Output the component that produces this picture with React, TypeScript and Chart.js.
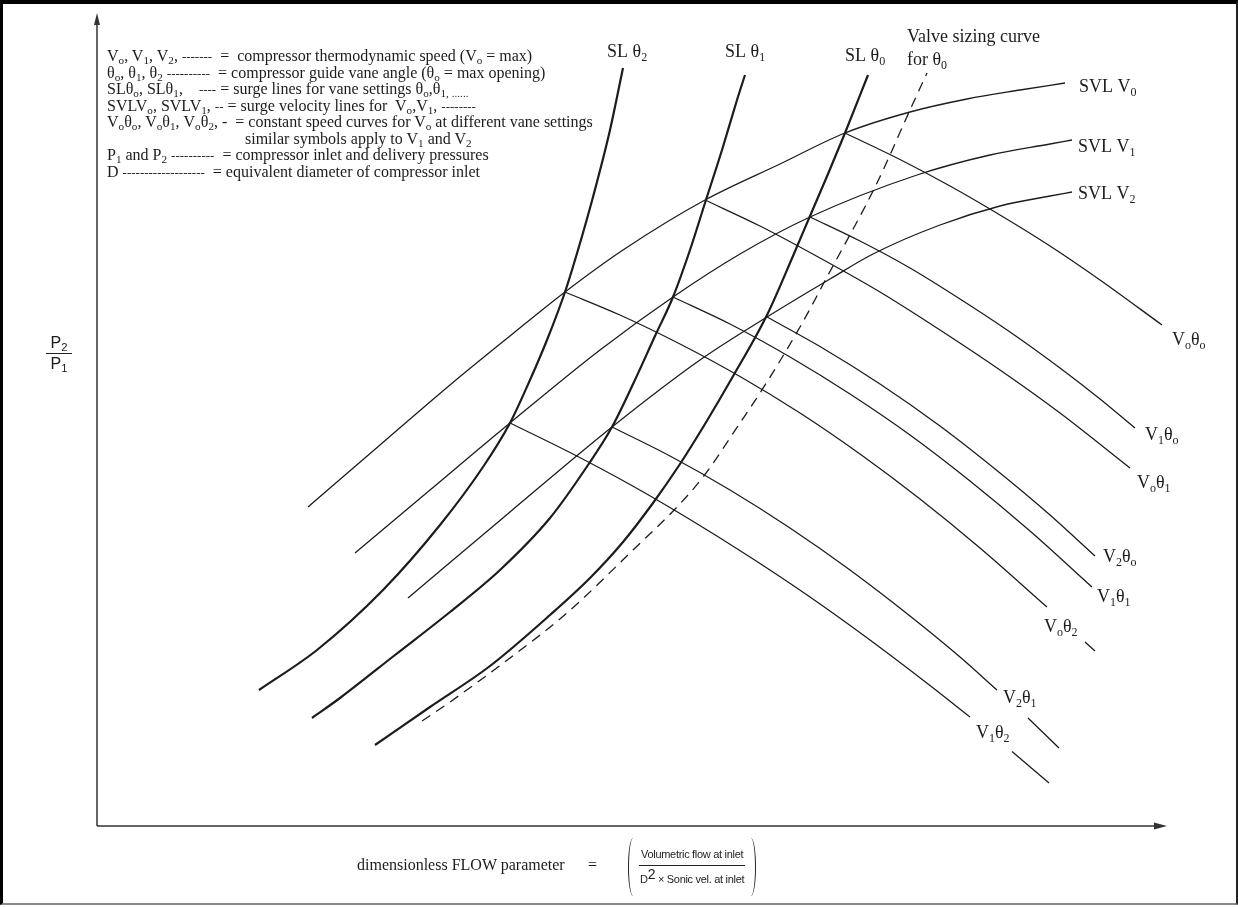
import React, { useEffect, useRef } from "react";
import { Chart, registerables } from "chart.js";

Chart.register(...registerables);

// Axis extents (dimensionless flow parameter, pressure ratio) in arbitrary drawing units
const X_MAX = 106.8;
const Y_MAX = 81.1;

// Surge lines (thick) for vane settings
const slTheta2 = [[16.2,13.6],[22.0,17.6],[28.6,23.6],[34.3,30.1],[38.6,35.9],[41.3,40.3],[43.3,44.6],[45.0,48.6],[46.8,53.4],[48.1,57.6],[49.6,62.9],[51.3,69.6],[52.6,75.8]];
const slTheta1 = [[21.5,10.8],[24.3,12.8],[29.8,17.1],[35.3,21.4],[40.3,25.6],[45.3,30.8],[49.1,36.1],[51.5,39.9],[53.7,44.4],[55.8,49.0],[57.6,52.9],[59.3,57.6],[60.8,62.3],[62.5,67.6],[64.0,72.6],[64.8,75.1]];
const slTheta0 = [[27.8,8.1],[33.3,11.9],[39.3,16.0],[45.3,21.1],[49.3,24.8],[52.6,28.4],[55.6,32.3],[58.3,36.2],[60.8,40.2],[63.5,44.8],[67.0,51.1],[69.6,57.0],[71.3,61.0],[73.1,65.2],[74.8,69.3],[77.1,75.1]];

// Valve sizing curve for theta0 (dashed)
const valveCurve = [[32.5,10.5],[35.3,12.4],[41.3,16.8],[47.0,21.3],[53.6,27.6],[58.0,31.9],[60.6,34.9],[64.3,40.3],[66.3,43.3],[70.3,49.9],[73.0,54.9],[78.0,64.3],[81.3,71.6],[83.0,75.3]];

// Surge velocity lines
const svlV0 = [[21.1,31.9],[28.3,38.1],[35.3,44.1],[41.3,49.0],[46.8,53.4],[52.6,57.6],[60.8,62.6],[68.3,66.2],[74.8,69.3],[81.3,71.4],[87.0,72.7],[92.3,73.6],[96.8,74.3]];
const svlV1 = [[25.8,27.3],[33.3,33.6],[41.3,40.3],[50.3,47.6],[57.6,52.9],[64.3,57.2],[71.3,60.9],[82.0,65.1],[89.3,67.1],[95.3,68.2],[97.5,68.6]];
const svlV2 = [[31.1,22.8],[41.3,31.4],[51.5,39.9],[60.3,46.6],[67.0,50.9],[73.3,54.7],[77.6,57.2],[84.3,60.1],[90.3,62.0],[95.3,63.0],[97.5,63.4]];

// Constant speed curves (speed V, vane setting theta)
const v0t0 = [[74.8,69.3],[80.3,66.65],[85.3,64.0],[90.3,61.1],[95.3,58.0],[100.3,54.6],[106.5,50.1]];
const v1t0 = [[71.3,60.9],[76.3,58.5],[81.3,55.8],[86.3,52.7],[91.3,49.4],[96.3,45.8],[100.3,42.7],[103.8,39.8]];
const v0t1 = [[60.8,62.6],[66.3,60.0],[72.3,56.8],[78.3,53.4],[84.3,49.6],[90.3,45.6],[96.3,41.3],[103.3,35.8]];
const v2t0 = [[67.0,50.9],[72.3,47.95],[78.3,44.2],[84.3,40.0],[90.3,35.3],[95.3,31.1],[99.8,27.0]];
const v1t1 = [[57.6,52.9],[63.3,50.2],[69.3,46.9],[75.3,43.2],[81.3,39.1],[87.3,34.5],[93.3,29.5],[99.5,23.9]];
const v0t2 = [[46.8,53.4],[52.3,51.1],[58.3,48.2],[64.3,44.95],[70.3,41.3],[76.3,37.2],[82.3,32.7],[88.3,27.8],[95.0,21.9]];
const v0t2Tail = [[98.8,18.4],[99.8,17.5]];
const v2t1 = [[51.5,39.9],[57.3,37.0],[63.3,33.6],[69.3,29.8],[75.3,25.6],[81.3,21.0],[86.3,16.9],[90.0,13.6]];
const v2t1Tail = [[93.1,10.8],[96.2,7.8]];
const v1t2 = [[41.3,40.3],[47.3,37.35],[53.3,34.15],[59.3,30.65],[65.3,26.9],[71.3,22.9],[77.3,18.6],[83.3,14.05],[87.3,10.9]];
const v1t2Tail = [[91.5,7.45],[95.2,4.3]];

// Curve labels ("_x" = subscript)
const labelTexts = ["SL θ_2","SL θ_1","SL θ_0","Valve sizing curve","for θ_0","SVL V_0","SVL V_1","SVL V_2","V_oθ_o","V_1θ_o","V_oθ_1","V_2θ_o","V_1θ_1","V_oθ_2","V_2θ_1","V_1θ_2"];
const labelX = [51.0,62.8,74.8,81.0,81.0,98.2,98.1,98.1,107.5,104.8,104.0,100.6,100.0,94.7,90.6,87.9];
const labelY = [77.4,77.4,77.0,78.9,76.6,73.9,67.9,63.2,48.6,39.1,34.3,26.9,22.9,19.9,12.8,9.3];

const INK = "#1c1c1c";

function drawRich(ctx: CanvasRenderingContext2D, text: string, x: number, y: number, size: number) {
  const parts = text.split(/(_\{[^}]*\}|_.)/).filter(Boolean);
  let cx = x;
  for (const p of parts) {
    if (p.startsWith("_")) {
      const t = p[1] === "{" ? p.slice(2, -1) : p.slice(1);
      ctx.font = `${Math.round(size * 0.66)}px "Liberation Serif", "Times New Roman", serif`;
      ctx.fillText(t, cx, y + size * 0.3);
      cx += ctx.measureText(t).width;
    } else {
      ctx.font = `${size}px "Liberation Serif", "Times New Roman", serif`;
      ctx.fillText(p, cx, y);
      cx += ctx.measureText(p).width;
    }
  }
}

const decorPlugin = {
  id: "decor",
  afterDatasetsDraw(chart: any) {
    const { ctx, chartArea: a, scales } = chart;
    ctx.save();
    ctx.strokeStyle = "#333";
    ctx.fillStyle = "#333";
    ctx.lineWidth = 1.5;
    ctx.beginPath();
    ctx.moveTo(a.left, a.bottom);
    ctx.lineTo(a.left, a.top + 4);
    ctx.moveTo(a.left, a.bottom);
    ctx.lineTo(a.right - 4, a.bottom);
    ctx.stroke();
    ctx.beginPath();
    ctx.moveTo(a.left, a.top - 2);
    ctx.lineTo(a.left - 3, a.top + 10);
    ctx.lineTo(a.left + 3, a.top + 10);
    ctx.closePath();
    ctx.fill();
    ctx.beginPath();
    ctx.moveTo(a.right + 2, a.bottom);
    ctx.lineTo(a.right - 11, a.bottom - 3.5);
    ctx.lineTo(a.right - 11, a.bottom + 3.5);
    ctx.closePath();
    ctx.fill();

    ctx.fillStyle = INK;
    ctx.textBaseline = "middle";
    ctx.textAlign = "left";
    labelTexts.forEach((t, i) => {
      const px = scales.x.getPixelForValue(labelX[i]);
      const py = scales.y.getPixelForValue(labelY[i]);
      drawRich(ctx, t, px, py, 18);
    });
    ctx.restore();
  },
};

function mk(points: number[][], width: number, dash?: number[]) {
  return {
    data: points.map(([x, y]) => ({ x, y })),
    showLine: true,
    borderColor: INK,
    borderWidth: width,
    borderDash: dash || [],
    cubicInterpolationMode: "monotone",
    pointRadius: 0,
    pointHoverRadius: 0,
    fill: false,
    clip: false as any,
  };
}

const S = ({ children }: { children: React.ReactNode }) => (
  <sub style={{ fontSize: "0.7em", lineHeight: 0, verticalAlign: "-0.25em" }}>{children}</sub>
);
const D = ({ children }: { children: React.ReactNode }) => (
  <span style={{ fontSize: 13 }}>{children}</span>
);

export default function App() {
  const ref = useRef<HTMLCanvasElement | null>(null);

  useEffect(() => {
    if (!ref.current) return;
    const chart = new Chart(ref.current, {
      type: "scatter",
      data: {
        datasets: [
          mk(slTheta2, 2.2),
          mk(slTheta1, 2.2),
          mk(slTheta0, 2.2),
          mk(valveCurve, 1.3, [10, 7]),
          mk(svlV0, 1.3),
          mk(svlV1, 1.3),
          mk(svlV2, 1.3),
          mk(v0t0, 1.3),
          mk(v1t0, 1.3),
          mk(v0t1, 1.3),
          mk(v2t0, 1.3),
          mk(v1t1, 1.3),
          mk(v0t2, 1.3),
          mk(v0t2Tail, 1.3),
          mk(v2t1, 1.3),
          mk(v2t1Tail, 1.3),
          mk(v1t2, 1.3),
          mk(v1t2Tail, 1.3),
        ] as any,
      },
      options: {
        animation: false,
        responsive: false,
        maintainAspectRatio: false,
        layout: { padding: { left: 97, top: 15, right: 73, bottom: 81 } },
        scales: {
          x: { type: "linear", min: 0, max: X_MAX, display: false },
          y: { type: "linear", min: 0, max: Y_MAX, display: false },
        },
        plugins: { legend: { display: false }, tooltip: { enabled: false } },
        events: [],
      },
      plugins: [decorPlugin],
    });
    return () => chart.destroy();
  }, []);

  const serif = '"Liberation Serif", "Times New Roman", serif';
  const sans = '"Liberation Sans", Arial, sans-serif';
  const legendLines: React.ReactNode[] = [
    <>V<S>o</S>, V<S>1</S>, V<S>2</S>, <D>-------</D>  =  compressor thermodynamic speed (V<S>o</S> = max)</>,
    <>θ<S>o</S>, θ<S>1</S>, θ<S>2</S> <D>----------</D>  = compressor guide vane angle (θ<S>o</S> = max opening)</>,
    <>SLθ<S>o</S>, SLθ<S>1</S>,    <D>----</D> = surge lines for vane settings θ<S>o</S>,θ<S>1, ......</S></>,
    <>SVLV<S>o</S>, SVLV<S>1</S>, <D>--</D> = surge velocity lines for  V<S>o</S>,V<S>1</S>, <D>--------</D></>,
    <>V<S>o</S>θ<S>o</S>, V<S>o</S>θ<S>1</S>, V<S>o</S>θ<S>2</S>, -  = constant speed curves for V<S>o</S> at different vane settings</>,
    <><span style={{ display: "inline-block", width: 138 }} />similar symbols apply to V<S>1</S> and V<S>2</S></>,
    <>P<S>1</S> and P<S>2</S> <D>----------</D>  = compressor inlet and delivery pressures</>,
    <>D <D>-------------------</D>  = equivalent diameter of compressor inlet</>,
  ];

  return (
    <div style={{ position: "relative", width: 1238, height: 907, background: "#fff", overflow: "hidden" }}>
      <style>{`body{margin:0;background:#fff}`}</style>
      <canvas ref={ref} width={1238} height={907} style={{ position: "absolute", left: 0, top: 0 }} />
      <div
        style={{
          position: "absolute", left: 0, top: 0, width: 1238, height: 905, boxSizing: "border-box",
          borderTop: "4px solid #000", borderLeft: "3px solid #000", borderRight: "2px solid #222",
          borderBottom: "2px solid #888", pointerEvents: "none",
        }}
      />
      <div style={{ position: "absolute", left: 107, top: 48, fontFamily: serif, fontSize: 16, lineHeight: "16.5px", color: INK, whiteSpace: "pre" }}>
        {legendLines.map((l, i) => (
          <div key={i} style={{ height: 16.5, overflow: "visible" }}>{l}</div>
        ))}
      </div>
      <div style={{ position: "absolute", left: 44, top: 334, width: 30, fontFamily: sans, fontSize: 16, color: INK, textAlign: "center", lineHeight: "18px" }}>
        <div>P<S>2</S></div>
        <div style={{ borderTop: "1.5px solid #222", margin: "1px 2px" }} />
        <div>P<S>1</S></div>
      </div>
      <div style={{ position: "absolute", left: 357, top: 856, fontFamily: serif, fontSize: 16, color: INK, whiteSpace: "pre" }}>
        dimensionless FLOW parameter
      </div>
      <div style={{ position: "absolute", left: 588, top: 856, fontFamily: serif, fontSize: 16, color: INK }}>=</div>
      <div style={{ position: "absolute", left: 628, top: 837, height: 60, display: "flex", alignItems: "center", color: INK }}>
        <div style={{ width: 9, height: 58, borderLeft: "1.5px solid #222", borderRadius: "50% 0 0 50% / 50% 0 0 50%" }} />
        <div style={{ display: "flex", flexDirection: "column", alignItems: "center", fontFamily: '"Liberation Sans Narrow", "Liberation Sans", sans-serif', fontSize: 11, letterSpacing: "-0.3px", lineHeight: "15px", margin: "0 1px" }}>
          <div style={{ padding: "0 2px" }}>Volumetric flow at inlet</div>
          <div style={{ borderTop: "1px solid #222", width: "100%", margin: "3px 0 5px" }} />
          <div>D<span style={{ position: "relative", top: -4, fontSize: 14 }}>2</span> × Sonic vel. at inlet</div>
        </div>
        <div style={{ width: 9, height: 58, borderRight: "1.5px solid #222", borderRadius: "0 50% 50% 0 / 0 50% 50% 0" }} />
      </div>
    </div>
  );
}
